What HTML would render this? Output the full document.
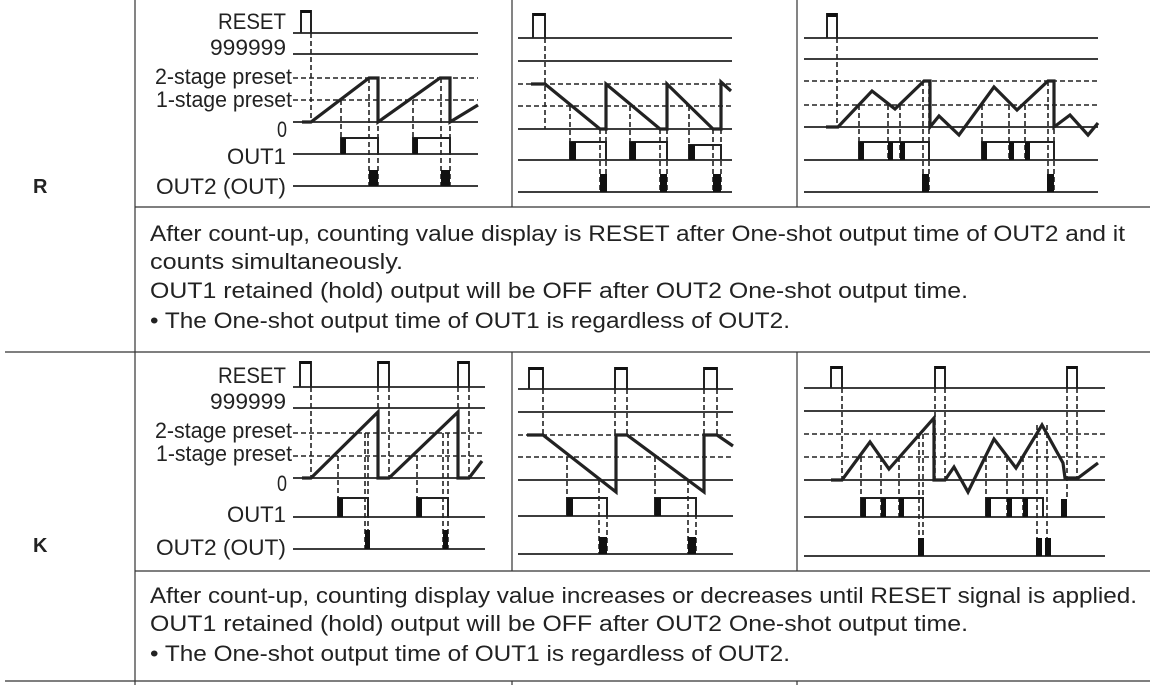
<!DOCTYPE html>
<html><head><meta charset="utf-8"><style>
html,body{margin:0;padding:0;background:#fff;}
svg{display:block;}
text{font-family:"Liberation Sans",sans-serif;fill:#222;}
.t{stroke:#333;stroke-width:1.2;fill:none;}
.s{stroke:#222;stroke-width:1.8;fill:none;}
.d{stroke:#222;stroke-width:1.6;stroke-dasharray:5 3;fill:none;}
.c{stroke:#222;stroke-width:3.2;fill:none;stroke-linejoin:miter;}
.o{stroke:#222;stroke-width:2;fill:none;}
.b{fill:#111;}
</style></head><body>
<svg width="1150" height="685" viewBox="0 0 1150 685" xmlns="http://www.w3.org/2000/svg">
<path class="t" d="M135 0V685 M512 0V207 M797 0V207 M512 352V571 M797 352V571 M512 681V685 M797 681V685 M135 207H1150 M5 352H1150 M135 571H1150 M5 681H1150"/>
<text x="33" y="193" font-size="20" font-weight="bold">R</text>
<text x="33" y="552" font-size="20" font-weight="bold">K</text>

<g font-size="22">
<text x="218" y="29" textLength="68" lengthAdjust="spacingAndGlyphs">RESET</text>
<text x="210" y="55" textLength="76" lengthAdjust="spacingAndGlyphs">999999</text>
<text x="155" y="84" textLength="137" lengthAdjust="spacingAndGlyphs">2-stage preset</text>
<text x="156" y="107" textLength="136" lengthAdjust="spacingAndGlyphs">1-stage preset</text>
<text x="277" y="137" textLength="10" lengthAdjust="spacingAndGlyphs">0</text>
<text x="227" y="164" textLength="59" lengthAdjust="spacingAndGlyphs">OUT1</text>
<text x="156" y="194" textLength="130" lengthAdjust="spacingAndGlyphs">OUT2 (OUT)</text>

<text x="218" y="383" textLength="68" lengthAdjust="spacingAndGlyphs">RESET</text>
<text x="210" y="409" textLength="76" lengthAdjust="spacingAndGlyphs">999999</text>
<text x="155" y="438" textLength="137" lengthAdjust="spacingAndGlyphs">2-stage preset</text>
<text x="156" y="461" textLength="136" lengthAdjust="spacingAndGlyphs">1-stage preset</text>
<text x="277" y="491" textLength="10" lengthAdjust="spacingAndGlyphs">0</text>
<text x="227" y="522" textLength="59" lengthAdjust="spacingAndGlyphs">OUT1</text>
<text x="156" y="555" textLength="130" lengthAdjust="spacingAndGlyphs">OUT2 (OUT)</text>
</g>

<g font-size="22">
<text x="150" y="241" textLength="975" lengthAdjust="spacingAndGlyphs">After count-up, counting value display is RESET after One-shot output time of OUT2 and it</text>
<text x="150" y="269" textLength="253" lengthAdjust="spacingAndGlyphs">counts simultaneously.</text>
<text x="150" y="298" textLength="818" lengthAdjust="spacingAndGlyphs">OUT1 retained (hold) output will be OFF after OUT2 One-shot output time.</text>
<text x="150" y="328" textLength="640" lengthAdjust="spacingAndGlyphs">• The One-shot output time of OUT1 is regardless of OUT2.</text>
<text x="150" y="603" textLength="987" lengthAdjust="spacingAndGlyphs">After count-up, counting display value increases or decreases until RESET signal is applied.</text>
<text x="150" y="631" textLength="818" lengthAdjust="spacingAndGlyphs">OUT1 retained (hold) output will be OFF after OUT2 One-shot output time.</text>
<text x="150" y="661" textLength="640" lengthAdjust="spacingAndGlyphs">• The One-shot output time of OUT1 is regardless of OUT2.</text>
</g>

<!-- Chart 1 -->
<path class="s" d="M293 33H478 M293 54H478 M293 122H478 M293 154H478 M293 186H478"/>
<path class="d" d="M293 78H478 M293 100H478"/>
<path class="o" d="M301 33V11H311V33"/><rect class="b" x="301" y="10" width="10" height="3"/>
<path class="d" d="M311 33V122 M341 100V154 M369 78V186 M378 78V186 M413 100V154 M441 78V186 M450 78V186"/>
<polyline class="c" points="302,122 311,122 369,78 378,78 378,122 440,78 450,78 450,122 478,105"/>
<path class="o" d="M341 154V138H378V154 M413 154V138H450V154"/>
<rect class="b" x="341" y="138" width="5" height="16"/><rect class="b" x="413" y="138" width="5" height="16"/>
<rect class="b" x="369" y="170" width="9" height="16"/><rect class="b" x="441" y="170" width="9" height="16"/>

<!-- Chart 2 -->
<path class="s" d="M518 38H732 M518 61H732 M518 129H732 M518 160H732 M518 192H732"/>
<path class="d" d="M518 84H732 M518 106H732"/>
<path class="o" d="M533 38V14H545V38"/><rect class="b" x="533" y="13" width="12" height="3"/>
<path class="d" d="M545 38V129 M570 106V160 M630 106V160 M689 106V160 M600 129V192 M606 129V192 M660 129V192 M667 129V192 M713 129V192 M721 129V192"/>
<polyline class="c" points="531,84 545,84 600,129 606,129 606,84 660,129 667,129 667,84 713,129 721,129 721,82 731,91"/>
<path class="o" d="M570 160V142H606V160 M630 160V142H667V160 M689 160V145H721V160"/>
<rect class="b" x="570" y="142" width="6" height="18"/><rect class="b" x="630" y="142" width="6" height="18"/><rect class="b" x="689" y="145" width="6" height="15"/>
<rect class="b" x="600" y="174" width="7" height="18"/><rect class="b" x="660" y="174" width="7" height="18"/><rect class="b" x="713" y="174" width="8" height="18"/>

<!-- Chart 3 -->
<path class="s" d="M804 38H1098 M804 59H1098 M804 127H1098 M804 160H1098 M804 192H1098"/>
<path class="d" d="M804 81H1098 M804 105H1098"/>
<path class="o" d="M827 38V14H837V38"/><rect class="b" x="827" y="13" width="10" height="4"/>
<path class="d" d="M837 38V127 M859 105V160 M888 105V160 M900 105V160 M923 81V192 M929 81V192 M982 105V160 M1009 105V160 M1025 105V160 M1048 81V192 M1054 81V192"/>
<polyline class="c" points="826,127 838,127 872,91 895,109 924,81 930,81 930,127 939,116 959,135 994,87 1017,110 1048,81 1054,81 1054,127 1070,115 1088,135 1098,123"/>
<path class="o" d="M859 160V142H929V160 M982 160V142H1054V160"/>
<rect class="b" x="859" y="142" width="5" height="18"/><rect class="b" x="888" y="142" width="5" height="18"/><rect class="b" x="900" y="142" width="5" height="18"/>
<rect class="b" x="982" y="142" width="5" height="18"/><rect class="b" x="1009" y="142" width="5" height="18"/><rect class="b" x="1025" y="142" width="5" height="18"/>
<rect class="b" x="922" y="174" width="7" height="18"/><rect class="b" x="1047" y="174" width="7" height="18"/>

<!-- Chart 4 -->
<path class="s" d="M293 387H485 M293 408H485 M293 478H485 M293 517H485 M293 549H485"/>
<path class="d" d="M293 433H485 M293 456H485"/>
<path class="o" d="M300 387V362H311V387 M378 387V362H389V387 M458 387V362H469V387"/>
<rect class="b" x="300" y="361" width="11" height="3"/><rect class="b" x="378" y="361" width="11" height="3"/><rect class="b" x="458" y="361" width="11" height="3"/>
<path class="d" d="M311 387V478 M378 387V478 M389 387V478 M458 387V478 M469 387V478 M338 456V517 M417 456V517 M365 433V549 M368 433V549 M443 433V549 M448 433V549"/>
<polyline class="c" points="302,478 311,478 378,412 378,478 389,478 458,412 458,478 469,478 482,461"/>
<path class="o" d="M338 517V498H368V517 M417 517V498H448V517"/>
<rect class="b" x="338" y="498" width="5" height="19"/><rect class="b" x="417" y="498" width="5" height="19"/>
<rect class="b" x="365" y="530" width="5" height="19"/><rect class="b" x="443" y="530" width="5" height="19"/>

<!-- Chart 5 -->
<path class="s" d="M518 389H733 M518 412H733 M518 480H733 M518 516H733 M518 554H733"/>
<path class="d" d="M518 435H733 M518 457H733"/>
<path class="o" d="M529 389V368H543V389 M615 389V368H627V389 M704 389V368H717V389"/>
<rect class="b" x="529" y="367" width="14" height="3"/><rect class="b" x="615" y="367" width="12" height="3"/><rect class="b" x="704" y="367" width="13" height="3"/>
<path class="d" d="M543 389V435 M615 389V435 M627 389V435 M704 389V435 M717 389V435 M567 457V516 M655 457V516 M599 480V554 M607 498V554 M688 480V554 M696 498V554"/>
<polyline class="c" points="527,435 543,435 616,492 616,435 627,435 704,492 704,435 717,435 733,446"/>
<path class="o" d="M567 516V498H607V516 M655 516V498H696V516"/>
<rect class="b" x="567" y="498" width="6" height="18"/><rect class="b" x="655" y="498" width="6" height="18"/>
<rect class="b" x="599" y="537" width="8" height="17"/><rect class="b" x="688" y="537" width="8" height="17"/>

<!-- Chart 6 -->
<path class="s" d="M804 388H1105 M804 411H1105 M804 480H1105 M804 517H1105 M804 556H1105"/>
<path class="d" d="M804 434H1105 M804 457H1105"/>
<path class="o" d="M831 388V367H842V388 M935 388V367H945V388 M1067 388V367H1077V388"/>
<rect class="b" x="831" y="366" width="11" height="3"/><rect class="b" x="935" y="366" width="10" height="3"/><rect class="b" x="1067" y="366" width="10" height="3"/>
<path class="d" d="M842 388V480 M935 388V480 M945 388V480 M1067 388V499 M1077 388V480 M861 457V517 M881 457V517 M899 457V517 M919 434V556 M923 434V556 M986 457V517 M1007 457V517 M1023 457V517 M1037 425V556 M1047 425V556"/>
<polyline class="c" points="831,480 842,480 870,442 889,469 934,418 934,480 945,480 954,467 968,492 994,439 1016,468 1042,425 1063,463 1065,478 1078,478 1098,463"/>
<path class="o" d="M861 517V498H923V517 M986 517V498H1043V517"/>
<rect class="b" x="861" y="498" width="5" height="19"/><rect class="b" x="881" y="498" width="5" height="19"/><rect class="b" x="899" y="498" width="5" height="19"/>
<rect class="b" x="986" y="498" width="5" height="19"/><rect class="b" x="1007" y="498" width="5" height="19"/><rect class="b" x="1023" y="498" width="5" height="19"/>
<rect class="b" x="1061" y="499" width="6" height="18"/>
<rect class="b" x="918" y="538" width="6" height="18"/><rect class="b" x="1036" y="538" width="6" height="18"/><rect class="b" x="1045" y="538" width="6" height="18"/>
</svg>
</body></html>
